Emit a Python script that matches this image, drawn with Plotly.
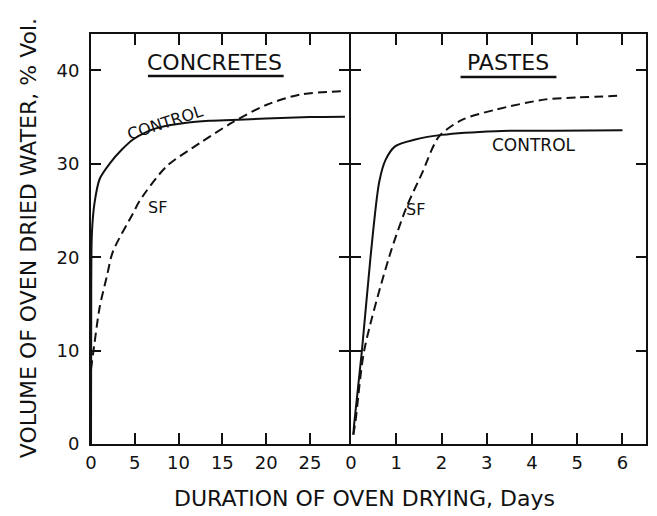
import plotly.graph_objects as go
from plotly.subplots import make_subplots

# Concretes (days of oven drying, % vol. water removed)
concrete_control_days = [0, 0.02, 0.1, 0.4, 1.0, 2.2, 3.5, 4.8, 6.3, 7.8, 10.9, 13.5, 16.1, 20, 25, 29]
concrete_control_vol = [0, 12, 22.5, 25.8, 28.4, 30.1, 31.5, 32.6, 33.4, 33.9, 34.4, 34.6, 34.7, 34.85, 35.0, 35.05]
concrete_sf_days = [0, 0.4, 1.0, 1.8, 2.5, 4.8, 5.6, 8.6, 12.4, 16.1, 20, 23.8, 29]
concrete_sf_vol = [8, 10.8, 14.7, 17.9, 20.6, 24.7, 26.1, 29.7, 32.2, 34.4, 36.3, 37.4, 37.8]

# Pastes
paste_control_days = [0.05, 0.07, 0.24, 0.43, 0.62, 0.76, 0.98, 1.42, 2.0, 3.2, 4.5, 6.0]
paste_control_vol = [1.0, 2.2, 10, 20, 28, 30.4, 31.9, 32.6, 33.1, 33.5, 33.55, 33.6]
paste_sf_days = [0.05, 0.1, 0.29, 0.84, 1.23, 1.57, 1.94, 2.45, 3.2, 4.3, 5.0, 6.0]
paste_sf_vol = [1.0, 2.5, 10, 20, 25.4, 29.0, 32.9, 34.7, 35.8, 36.9, 37.1, 37.3]

concrete_ticks = [0, 5, 10, 15, 20, 25]
paste_ticks = [0, 1, 2, 3, 4, 5, 6]
vol_ticks = [0, 10, 20, 30, 40]

INK = "#111111"
FONT = "DejaVu Sans"
W, H = 657, 516
ML, MR, MT, MB = 91, 9, 34, 72
PW, PH = W - ML - MR, H - MT - MB

fig = make_subplots(rows=1, cols=2, shared_yaxes=False, horizontal_spacing=0)

solid = dict(color=INK, width=2, shape="spline", smoothing=0.8)
dashed = dict(color=INK, width=2, dash="9px,5px", shape="spline", smoothing=0.8)

fig.add_trace(go.Scatter(x=concrete_control_days, y=concrete_control_vol, mode="lines", line=solid), 1, 1)
fig.add_trace(go.Scatter(x=concrete_sf_days, y=concrete_sf_vol, mode="lines", line=dashed), 1, 1)
fig.add_trace(go.Scatter(x=paste_control_days, y=paste_control_vol, mode="lines", line=solid), 1, 2)
fig.add_trace(go.Scatter(x=paste_sf_days, y=paste_sf_vol, mode="lines", line=dashed), 1, 2)

# the two panels share a single divider line
left_end = (350 - ML) / PW
right_start = (352 - ML) / PW

axis_common = dict(showgrid=False, zeroline=False, showline=True, linecolor=INK, linewidth=2,
                   ticks="inside", mirror="ticks", tickcolor=INK, tickwidth=2,
                   tickfont=dict(family=FONT, size=18, color=INK))

fig.update_layout(
    xaxis=dict(axis_common, domain=[0, left_end], range=[0, 29.7 * 259 / 261], tickvals=concrete_ticks,
               ticklen=11, ticklabelstandoff=1),
    xaxis2=dict(axis_common, domain=[right_start, 1], range=[0, 6.52], tickvals=paste_ticks,
                ticklen=11, ticklabelstandoff=1),
    yaxis=dict(axis_common, range=[0, 43.9], tickvals=vol_ticks, ticklen=10, ticklabelstandoff=6),
    yaxis2=dict(axis_common, range=[0, 43.9], tickvals=vol_ticks, ticklen=10, showticklabels=False),
    showlegend=False,
    paper_bgcolor="white",
    plot_bgcolor="white",
    width=W,
    height=H,
    margin=dict(l=ML, r=MR, t=MT, b=MB),
    font=dict(family=FONT, color=INK),
)

annotations = [
    dict(text="CONCRETES", x=14.1, y=40.8, xref="x", yref="y", font=dict(size=22)),
    dict(text="PASTES", x=3.46, y=40.8, xref="x2", yref="y2", font=dict(size=22)),
    dict(text="CONTROL", x=8.5, y=34.4, xref="x", yref="y", textangle=-18, font=dict(size=16)),
    dict(text="SF", x=7.6, y=25.3, xref="x", yref="y", font=dict(size=16)),
    dict(text="CONTROL", x=4.05, y=32.0, xref="x2", yref="y2", font=dict(size=17)),
    dict(text="SF", x=1.42, y=25.1, xref="x2", yref="y2", font=dict(size=16)),
    dict(text="VOLUME OF OVEN DRIED WATER, % Vol.", x=28, y=238, xref="paper", yref="paper",
         textangle=-90, font=dict(size=22)),
    dict(text="DURATION OF OVEN DRYING, Days", x=365, y=498, xref="paper", yref="paper",
         font=dict(size=22)),
]
for a in annotations:
    a.setdefault("showarrow", False)
    a["xanchor"] = "center"
    a["yanchor"] = "middle"
    a["font"] = dict(family=FONT, color=INK, **a["font"])
    if a["xref"] == "paper":
        # pixel placement converted to paper fractions
        a["x"] = (a["x"] - ML) / PW
        a["y"] = (H - MB - a["y"]) / PH
    fig.add_annotation(**a)

# heading underlines
fig.add_shape(type="line", x0=6.5, x1=22.0, y0=39.4, y1=39.4, xref="x", yref="y",
              line=dict(color=INK, width=2.5))
fig.add_shape(type="line", x0=2.42, x1=4.54, y0=39.3, y1=39.3, xref="x2", yref="y2",
              line=dict(color=INK, width=2.5))

fig.write_html("out.html")
